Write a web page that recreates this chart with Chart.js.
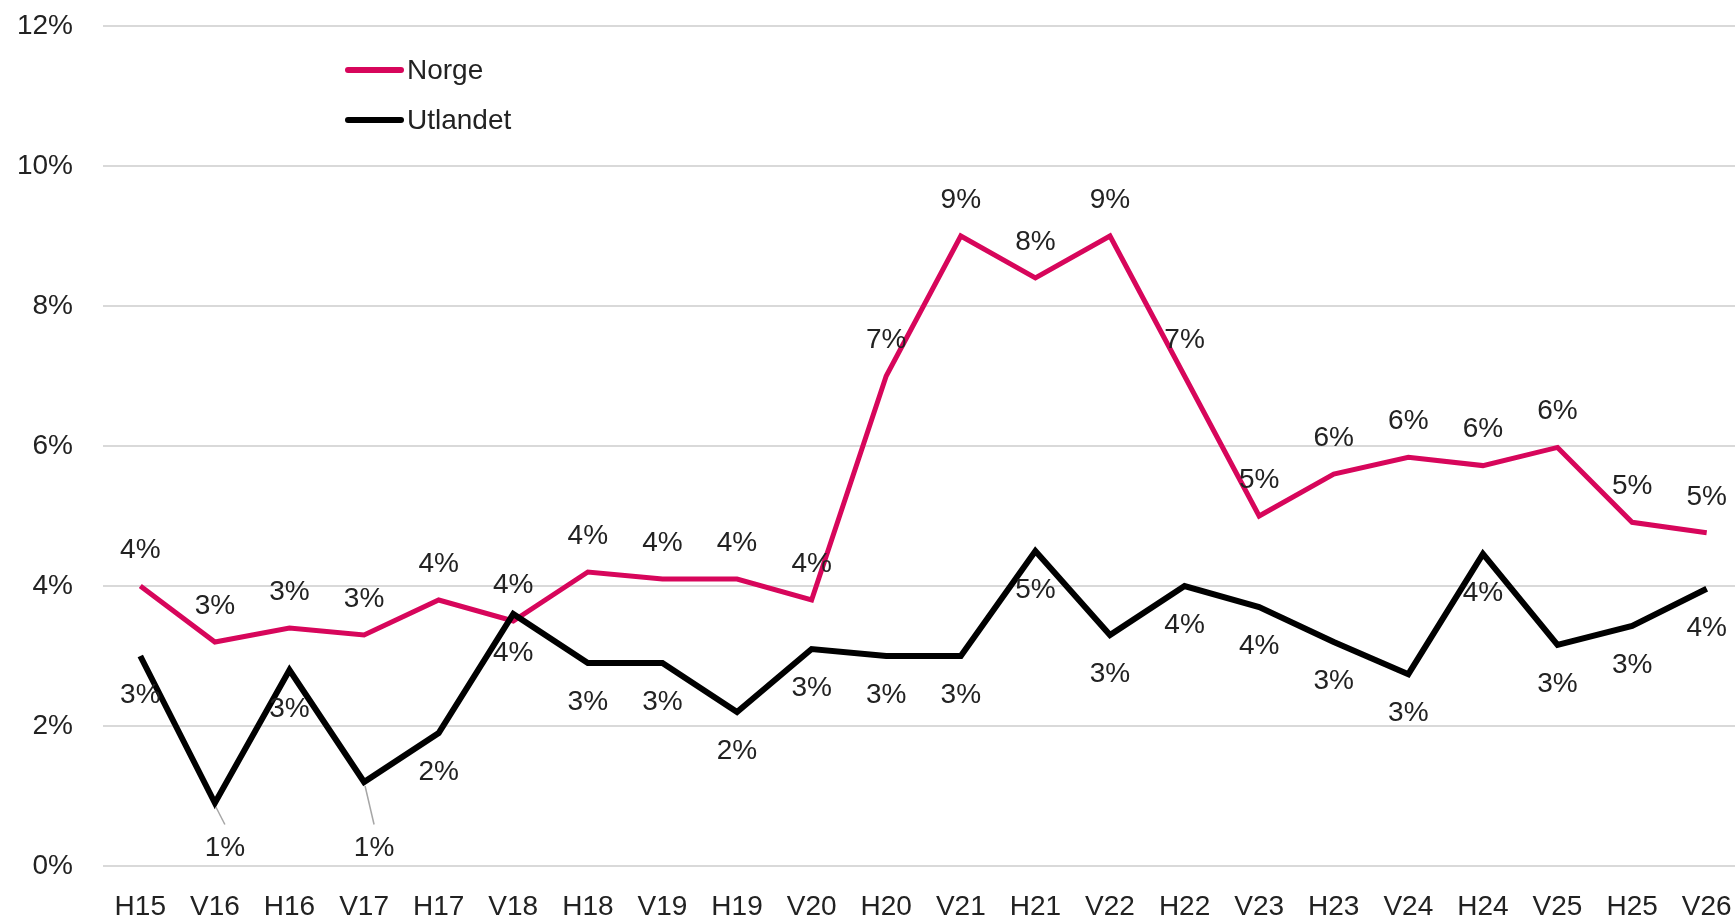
<!DOCTYPE html>
<html>
<head>
<meta charset="utf-8">
<script src="https://cdn.jsdelivr.net/npm/chart.js@4.4.1/dist/chart.umd.min.js"></script>
<style>
  html, body { margin: 0; padding: 0; background: #fff; overflow: hidden; }
  #wrap { width: 1744px; height: 920px; }
</style>
</head>
<body>
<div id="wrap"><canvas id="chart" width="1744" height="920"></canvas></div>
<script>
var categories = ['H15', 'V16', 'H16', 'V17', 'H17', 'V18', 'H18', 'V19', 'H19', 'V20', 'H20',
                  'V21', 'H21', 'V22', 'H22', 'V23', 'H23', 'V24', 'H24', 'V25', 'H25', 'V26'];
var norge    = [4.0, 3.2, 3.4, 3.3, 3.8, 3.5, 4.2, 4.1, 4.1, 3.8, 7.0,
                9.0, 8.4, 9.0, 7.0, 5.0, 5.6, 5.84, 5.72, 5.98, 4.91, 4.76];
var utlandet = [3.0, 0.9, 2.8, 1.2, 1.9, 3.6, 2.9, 2.9, 2.2, 3.1, 3.0,
                3.0, 4.5, 3.3, 4.0, 3.7, 3.2, 2.74, 4.46, 3.16, 3.43, 3.96];
var seriesNames = ['Norge', 'Utlandet'];
var yMin = 0, yMax = 12, yStep = 2;

var FONT = '"Liberation Sans", Arial, sans-serif';
var TEXT = '#222222';

// data labels: Norge above the line, Utlandet below (leader line when close to the axis)
var pointLabels = {
  id: 'pointLabels',
  afterDatasetsDraw: function(chart) {
    var ctx = chart.ctx;
    var yScale = chart.scales.y;
    ctx.save();
    ctx.font = '28px ' + FONT;
    ctx.fillStyle = TEXT;
    ctx.textAlign = 'center';
    ctx.textBaseline = 'middle';
    chart.data.datasets.forEach(function(ds, i) {
      var meta = chart.getDatasetMeta(i);
      meta.data.forEach(function(p, k) {
        var v = ds.data[k];
        var txt = Math.round(v) + '%';
        if (ds.labelBelow) {
          if (v < 1.5) {
            var ly = yScale.getPixelForValue(0.25);
            ctx.strokeStyle = '#a6a6a6';
            ctx.lineWidth = 1.5;
            ctx.beginPath();
            ctx.moveTo(p.x + 1, p.y + 4);
            ctx.lineTo(p.x + 10, ly - 24);
            ctx.stroke();
            ctx.fillText(txt, p.x + 10, ly);
          } else {
            ctx.fillText(txt, p.x, p.y + 39);
          }
        } else {
          ctx.fillText(txt, p.x, p.y - 36);
        }
      });
    });
    ctx.restore();
  }
};

// legend drawn inside the plot, top left
var insideLegend = {
  id: 'insideLegend',
  afterDraw: function(chart) {
    var ctx = chart.ctx;
    var a = chart.chartArea;
    ctx.save();
    ctx.font = '28px ' + FONT;
    ctx.textBaseline = 'middle';
    ctx.textAlign = 'left';
    chart.data.datasets.forEach(function(ds, i) {
      var y = a.top + 44 + i * 50;
      ctx.strokeStyle = ds.borderColor;
      ctx.lineWidth = 6;
      ctx.lineCap = 'round';
      ctx.beginPath();
      ctx.moveTo(a.left + 245, y);
      ctx.lineTo(a.left + 298, y);
      ctx.stroke();
      ctx.fillStyle = TEXT;
      ctx.fillText(ds.label, a.left + 304, y + 1);
    });
    ctx.restore();
  }
};

var ctx = document.getElementById('chart').getContext('2d');
new Chart(ctx, {
  type: 'line',
  data: {
    labels: categories,
    datasets: [{
      label: seriesNames[0],
      data: norge,
      borderColor: '#d7065b',
      borderWidth: 5,
      pointRadius: 0,
      tension: 0,
      order: 1,
      labelBelow: false
    }, {
      label: seriesNames[1],
      data: utlandet,
      borderColor: '#000000',
      borderWidth: 6,
      pointRadius: 0,
      tension: 0,
      order: 0,
      labelBelow: true
    }]
  },
  options: {
    responsive: false,
    animation: false,
    layout: { padding: { top: 26, right: 0, bottom: 0, left: 0 }, autoPadding: false },
    plugins: {
      legend: { display: false },
      tooltip: { enabled: false }
    },
    scales: {
      x: {
        offset: true,
        afterFit: function(scale) {
          scale.height = 54;
          scale.paddingLeft = 0;
          scale.paddingRight = 0;
        },
        grid: { display: false, drawTicks: false },
        border: { display: false },
        ticks: {
          color: TEXT,
          font: { family: FONT, size: 28 },
          padding: 24,
          maxRotation: 0,
          autoSkip: false
        }
      },
      y: {
        min: yMin,
        max: yMax,
        afterFit: function(scale) {
          scale.width = 103;
          scale.paddingTop = 0;
          scale.paddingBottom = 0;
        },
        grid: { color: '#d9d9d9', lineWidth: 2, drawTicks: false },
        border: { display: false },
        ticks: {
          stepSize: yStep,
          color: TEXT,
          font: { family: FONT, size: 28 },
          padding: 30,
          callback: function(v) { return v + '%'; }
        }
      }
    }
  },
  plugins: [pointLabels, insideLegend]
});
</script>
</body>
</html>
